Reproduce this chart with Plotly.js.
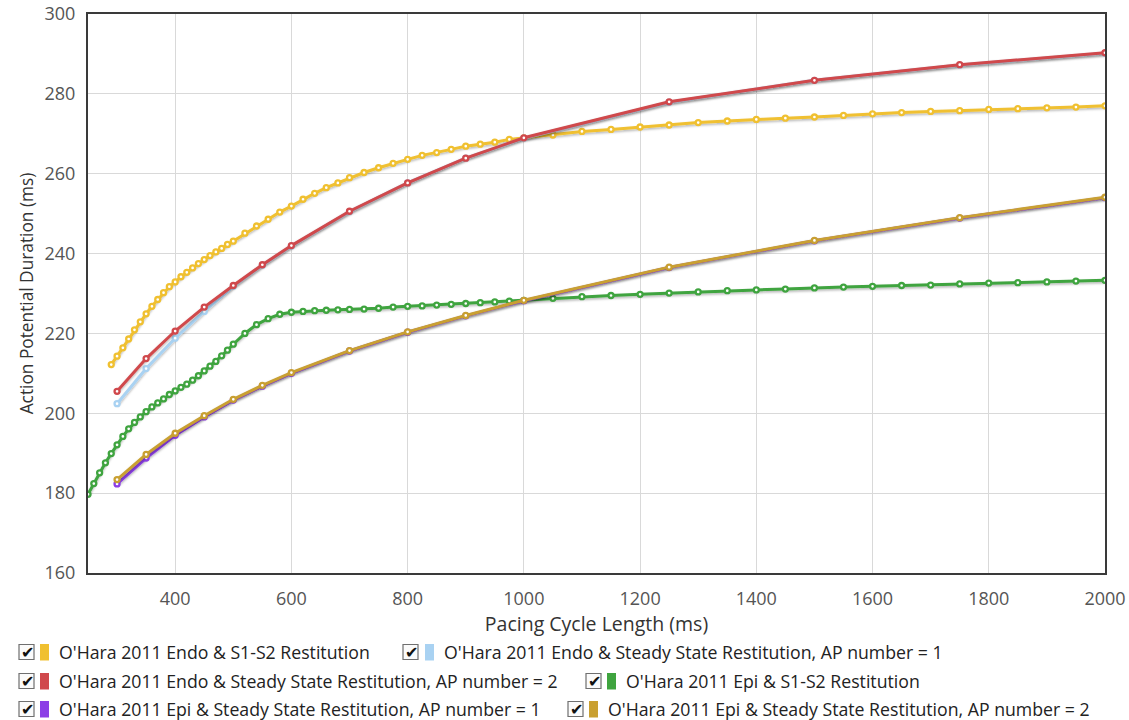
<!DOCTYPE html>
<html>
<head>
<meta charset="utf-8">
<script src="https://cdn.plot.ly/plotly-3.0.1.min.js"></script>
<style>
  html, body { margin: 0; padding: 0; background: #ffffff; }
  #chart { width: 1129px; height: 720px; }
</style>
</head>
<body>
<div id="chart"></div>
<script>
// ---------- DATA ----------
const seriesNames = [
  "O'Hara 2011 Endo & S1-S2 Restitution",
  "O'Hara 2011 Endo & Steady State Restitution, AP number = 1",
  "O'Hara 2011 Endo & Steady State Restitution, AP number = 2",
  "O'Hara 2011 Epi & S1-S2 Restitution",
  "O'Hara 2011 Epi & Steady State Restitution, AP number = 1",
  "O'Hara 2011 Epi & Steady State Restitution, AP number = 2"
];
const seriesColors = ["#f0c030", "#a9d2f2", "#d0484c", "#3fa43f", "#8c3fe6", "#c9a031"];

const endoS1S2X = [290,300,310,320,330,340,350,360,370,380,390,400,410,420,430,440,450,460,470,480,490,500,
  520,540,560,580,600,620,640,660,680,700,725,750,775,800,825,850,875,900,925,950,975,1000,
  1050,1100,1150,1200,1250,1300,1350,1400,1450,1500,1550,1600,1650,1700,1750,1800,1850,1900,1950,2000];
const endoS1S2Y = [212.2,214.3,216.4,218.6,220.9,222.9,224.9,226.8,228.5,230.2,231.7,232.9,234.2,235.3,236.4,237.5,238.5,239.5,240.4,241.3,242.3,243.1,
  245.1,246.9,248.6,250.4,251.9,253.6,255.1,256.5,257.7,259.0,260.3,261.5,262.6,263.6,264.6,265.3,266.1,266.9,267.4,267.9,268.6,269.0,
  269.7,270.6,271.1,271.7,272.2,272.8,273.2,273.6,273.9,274.2,274.6,275.0,275.3,275.6,275.8,276.1,276.3,276.5,276.7,277.0];

const epiS1S2X = [250,260,270,280,290,300,310,320,330,340,350,360,370,380,390,400,410,420,430,440,450,460,470,480,490,500,
  520,540,560,580,600,620,640,660,680,700,725,750,775,800,825,850,875,900,925,950,975,1000,
  1050,1100,1150,1200,1250,1300,1350,1400,1450,1500,1550,1600,1650,1700,1750,1800,1850,1900,1950,2000];
const epiS1S2Y = [179.7,182.4,185.1,187.6,189.9,192.1,194.2,196.1,197.7,199.1,200.4,201.6,202.6,203.6,204.7,205.6,206.5,207.3,208.3,209.4,210.6,211.8,213.0,214.4,215.8,217.3,
  220.0,222.2,223.7,224.8,225.3,225.5,225.7,225.8,225.9,226.0,226.1,226.3,226.6,226.8,226.9,227.1,227.3,227.5,227.7,227.9,228.1,228.3,
  228.8,229.2,229.5,229.8,230.1,230.4,230.7,230.9,231.1,231.4,231.6,231.8,232.0,232.1,232.4,232.6,232.7,232.9,233.1,233.3];

const steadyX = [300,350,400,450,500,550,600,700,800,900,1000,1250,1500,1750,2000];
const endoSS1Y = [202.4,211.2,218.8,225.5,231.8,237.1,241.9,250.5,257.7,263.9,268.9,277.9,283.4,287.2,290.2];
const endoSS2Y = [205.5,213.7,220.6,226.6,232.0,237.2,242.0,250.6,257.7,263.9,269.0,278.0,283.4,287.3,290.3];
const epiSS1Y  = [182.3,188.8,194.5,199.1,203.3,206.8,210.0,215.6,220.3,224.4,228.2,236.5,243.2,248.9,254.0];
const epiSS2Y  = [183.4,189.7,195.0,199.4,203.5,207.0,210.2,215.7,220.4,224.5,228.3,236.6,243.3,249.0,254.1];

const xTicks = [400,600,800,1000,1200,1400,1600,1800,2000];
const yTicks = [160,180,200,220,240,260,280,300];
const xTitle = "Pacing Cycle Length (ms)";
const yTitle = "Action Potential Duration (ms)";

// ---------- TRACES ----------
const seriesX = [endoS1S2X, steadyX, steadyX, epiS1S2X, steadyX, steadyX];
const seriesY = [endoS1S2Y, endoSS1Y, endoSS2Y, epiS1S2Y, epiSS1Y, epiSS2Y];

const traces = seriesNames.map((name, i) => ({
  type: "scatter",
  mode: "lines+markers",
  name: name,
  x: seriesX[i],
  y: seriesY[i],
  line: { color: seriesColors[i], width: 3 },
  marker: { size: 5, color: "#ffffff", line: { color: seriesColors[i], width: 2.3 } },
  hoverinfo: "x+y",
  showlegend: false
}));

// ---------- LAYOUT ----------
const W = 1129, H = 720;
const M = { l: 88, r: 24, t: 14, b: 147 };
const pw = W - M.l - M.r, ph = H - M.t - M.b;
const px = v => (v - M.l) / pw;
const py = v => (H - M.b - v) / ph;

// legend item placement (pixels): [checkbox left, text left, row center]
const legendPos = [
  [19, 57, 652], [403, 442, 652],
  [19, 57, 681], [586, 624, 681],
  [19, 57, 709], [568, 606, 709]
];

const shapes = [];
const annotations = [];
legendPos.forEach((p, i) => {
  const [cb, tx, cy] = p;
  shapes.push({ type: "rect", xref: "paper", yref: "paper",
    x0: px(cb), x1: px(cb + 15), y0: py(cy + 7.5), y1: py(cy - 7.5),
    line: { color: "#6f6f6f", width: 1.2 }, fillcolor: "#fbfbfb", layer: "above" });
  annotations.push({ xref: "paper", yref: "paper", x: px(cb + 8), y: py(cy + 0.5), text: "<b>✔</b>",
    showarrow: false, xanchor: "center", yanchor: "middle",
    font: { family: "DejaVu Sans", size: 16, color: "#111" } });
  shapes.push({ type: "rect", xref: "paper", yref: "paper",
    x0: px(tx - 17), x1: px(tx - 8), y0: py(cy + 8.5), y1: py(cy - 8),
    line: { width: 0 }, fillcolor: seriesColors[i], layer: "above" });
  annotations.push({ xref: "paper", yref: "paper", x: px(tx), y: py(cy), text: seriesNames[i],
    showarrow: false, xanchor: "left", yanchor: "middle",
    font: { family: "Open Sans", size: 17.7, color: "#222" } });
});

const layout = {
  width: W, height: H,
  margin: M,
  paper_bgcolor: "#ffffff",
  plot_bgcolor: "#ffffff",
  font: { family: "Open Sans", color: "#444" },
  showlegend: false,
  hovermode: "closest",
  xaxis: {
    range: [250, 2000],
    tickvals: xTicks,
    ticktext: xTicks.map(String),
    showgrid: true, gridcolor: "#d9d9d9", gridwidth: 1,
    zeroline: false,
    showline: true, linecolor: "#3a3a3a", linewidth: 2, mirror: true,
    ticks: "", ticklabelstandoff: 8,
    tickfont: { family: "Open Sans", size: 18, color: "#555" },
    title: { text: xTitle, font: { family: "Open Sans", size: 19.5, color: "#333" }, standoff: 2 }
  },
  yaxis: {
    range: [160, 300],
    tickvals: yTicks,
    ticktext: yTicks.map(String),
    showgrid: true, gridcolor: "#d9d9d9", gridwidth: 1,
    zeroline: false,
    showline: true, linecolor: "#3a3a3a", linewidth: 2, mirror: true,
    ticks: "", ticklabelstandoff: 7,
    tickfont: { family: "Open Sans", size: 18, color: "#555" },
    title: { text: yTitle, font: { family: "Open Sans", size: 17.3, color: "#333" }, standoff: 6 }
  },
  shapes: shapes,
  annotations: annotations
};

Plotly.newPlot("chart", traces, layout, { displayModeBar: false, responsive: false }).then(gd => {
  // soft drop shadow under the lines, like the original chart
  const svg = gd.querySelector("svg.main-svg");
  const ns = "http://www.w3.org/2000/svg";
  let defs = svg.querySelector("defs");
  if (!defs) { defs = document.createElementNS(ns, "defs"); svg.insertBefore(defs, svg.firstChild); }
  const f = document.createElementNS(ns, "filter");
  f.setAttribute("id", "lineShadow");
  f.setAttribute("x", "-5%"); f.setAttribute("y", "-20%");
  f.setAttribute("width", "110%"); f.setAttribute("height", "140%");
  const ds = document.createElementNS(ns, "feDropShadow");
  ds.setAttribute("dx", "0"); ds.setAttribute("dy", "1.5");
  ds.setAttribute("stdDeviation", "1");
  ds.setAttribute("flood-color", "#000"); ds.setAttribute("flood-opacity", "0.3");
  f.appendChild(ds);
  defs.appendChild(f);
  gd.querySelectorAll(".scatterlayer .trace path.js-line").forEach(p => p.setAttribute("filter", "url(#lineShadow)"));
});
</script>
</body>
</html>
